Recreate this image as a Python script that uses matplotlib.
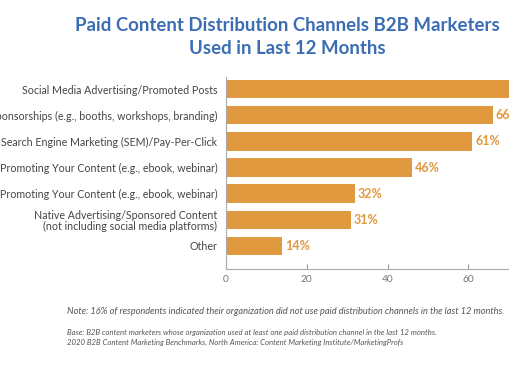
import matplotlib.pyplot as plt

# данные
channels = [
    'Social Media Advertising/Promoted Posts',
    'Sponsorships (e.g., booths, workshops, branding)',
    'Search Engine Marketing (SEM)/Pay-Per-Click',
    'Banner Ads Promoting Your Content (e.g., ebook, webinar)',
    'Traditional/Offline Ads Promoting Your Content (e.g., ebook, webinar)',
    'Native Advertising/Sponsored Content\n(not including social media platforms)',
    'Other',
]
percent = [72, 66, 61, 46, 32, 31, 14]
ticks = [0, 20, 40, 60, 80]

bar_color = '#E0993F'
blue = '#3A6DB3'
gray = '#555555'

fig = plt.figure(figsize=(5.1, 3.82), dpi=100)
ax = fig.add_axes([0.4426, 0.2958, 0.6345, 0.5026])

ypos = list(range(len(channels)))
ax.barh(ypos, percent, height=0.71, color=bar_color)
ax.set_ylim(6.88, -0.46)
ax.set_xlim(0, 80)

# подписи значений
for y, v in zip(ypos, percent):
    ax.text(v + 0.7, y, f'{v}%', va='center', ha='left', color=bar_color,
            fontsize=9, fontweight='bold', family='Lato')

ax.set_yticks(ypos)
ax.set_yticklabels(channels, fontsize=7.7, color='#444444', family='Lato',
                   linespacing=1.0)
ax.tick_params(axis='y', length=0, pad=6)
ax.set_xticks(ticks)
ax.set_xticklabels([str(t) for t in ticks], fontsize=7.3, color='#777777', family='Lato')
ax.tick_params(axis='x', direction='in', length=3.6, color='#999999', pad=4)

for s in ['top', 'right']:
    ax.spines[s].set_visible(False)
for s in ['left', 'bottom']:
    ax.spines[s].set_color('#AAAAAA')
    ax.spines[s].set_linewidth(0.8)

fig.text(287.5 / 510, 1 - 25.7 / 382,
         'Paid Content Distribution Channels B2B Marketers', ha='center', va='center',
         fontsize=13.4, fontweight='bold', color=blue, family='Lato')
fig.text(287.5 / 510, 1 - 48 / 382,
         'Used in Last 12 Months', ha='center', va='center',
         fontsize=13.4, fontweight='bold', color=blue, family='Lato')

fig.text(66.7 / 510, 1 - 312 / 382,
         'Note: 16% of respondents indicated their organization did not use paid '
         'distribution channels in the last 12 months.',
         ha='left', va='center', fontsize=6.7, style='italic', color=gray, family='Lato')
fig.text(66.7 / 510, 1 - 332 / 382,
         'Base: B2B content marketers whose organization used at least one paid '
         'distribution channel in the last 12 months.',
         ha='left', va='center', fontsize=5.6, style='italic', color=gray, family='Lato')
fig.text(66.7 / 510, 1 - 342 / 382,
         '2020 B2B Content Marketing Benchmarks, North America: Content Marketing '
         'Institute/MarketingProfs',
         ha='left', va='center', fontsize=5.6, style='italic', color=gray, family='Lato')

fig.savefig('out.png', dpi=100)
